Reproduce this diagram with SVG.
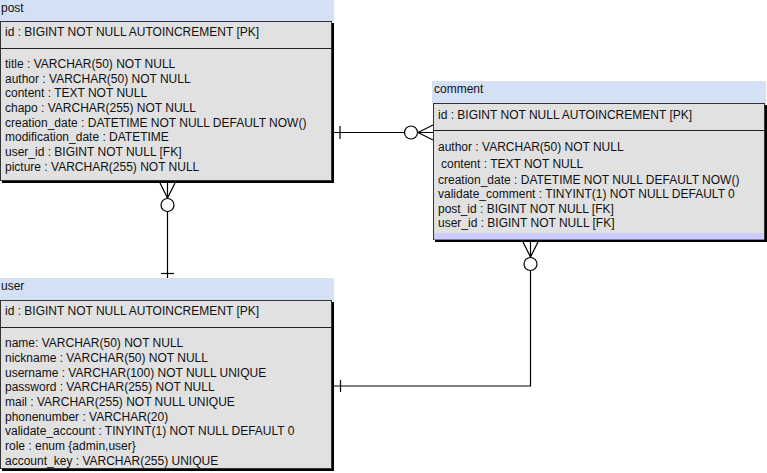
<svg xmlns="http://www.w3.org/2000/svg" width="767" height="473" viewBox="0 0 767 473">
<style>
.hdr{fill:#d4e1f5}
.shadow{fill:#000}
.body{fill:#e1e1e1;stroke:#333;stroke-width:1}
.div{stroke:#222;stroke-width:1}
text{font-family:"Liberation Sans",Arial,sans-serif;font-size:12px;fill:#111}
.ln{fill:none;stroke:#000;stroke-width:1.2}
.circ{fill:#fff;stroke:#000;stroke-width:1.2}
</style>
<rect width="767" height="473" fill="#fff"/>
<g id="connectors">
  <!-- post - comment -->
  <line class="ln" x1="334" y1="132.5" x2="433" y2="132.5"/>
  <line class="ln" x1="340" y1="126" x2="340" y2="139"/>
  <line class="ln" x1="418" y1="132.5" x2="433" y2="125"/>
  <line class="ln" x1="418" y1="132.5" x2="433" y2="140"/>
  <circle class="circ" cx="411" cy="132.5" r="6.5"/>
  <!-- post - user -->
  <line class="ln" x1="167.5" y1="183" x2="167.5" y2="278"/>
  <line class="ln" x1="161" y1="273.5" x2="174" y2="273.5"/>
  <line class="ln" x1="160" y1="183" x2="167.5" y2="198"/>
  <line class="ln" x1="175" y1="183" x2="167.5" y2="198"/>
  <circle class="circ" cx="167.5" cy="205" r="6.5"/>
  <!-- comment - user -->
  <polyline class="ln" points="530.5,242 530.5,386 334,386"/>
  <line class="ln" x1="340.5" y1="380" x2="340.5" y2="392"/>
  <line class="ln" x1="523" y1="242" x2="530.5" y2="257"/>
  <line class="ln" x1="538" y1="242" x2="530.5" y2="257"/>
  <circle class="circ" cx="530.5" cy="264" r="6.5"/>
</g>
<g id="post">
  <rect class="hdr" x="0" y="0" width="334" height="21"/>
  <rect class="shadow" x="2" y="23" width="332" height="160"/>
  <rect class="body" x="0.5" y="21.5" width="331" height="159"/>
  <line class="div" x1="0.5" y1="48.5" x2="331.5" y2="48.5"/>
  <text x="1" y="12">post</text>
  <text x="5" y="36">id : BIGINT NOT NULL AUTOINCREMENT [PK]</text>
  <text x="5" y="68">title : VARCHAR(50) NOT NULL</text>
  <text x="5" y="82.5">author : VARCHAR(50) NOT NULL</text>
  <text x="5" y="97">content : TEXT NOT NULL</text>
  <text x="5" y="112">chapo : VARCHAR(255) NOT NULL</text>
  <text x="5" y="126.5">creation_date : DATETIME NOT NULL DEFAULT NOW()</text>
  <text x="5" y="141">modification_date : DATETIME</text>
  <text x="5" y="156">user_id : BIGINT NOT NULL [FK]</text>
  <text x="5" y="170.5">picture : VARCHAR(255) NOT NULL</text>
</g>
<g id="comment">
  <rect class="hdr" x="432" y="81" width="334" height="22"/>
  <rect class="shadow" x="435" y="105" width="332" height="137"/>
  <rect class="body" x="433.5" y="103.5" width="331" height="136"/>
  <rect x="434" y="233" width="330" height="6.5" fill="#ccccff"/>
  <line class="div" x1="433.5" y1="130.5" x2="764.5" y2="130.5"/>
  <text x="434" y="93">comment</text>
  <text x="438" y="119">id : BIGINT NOT NULL AUTOINCREMENT [PK]</text>
  <text x="438" y="151">author : VARCHAR(50) NOT NULL</text>
  <text x="441" y="168">content : TEXT NOT NULL</text>
  <text x="438" y="184">creation_date : DATETIME NOT NULL DEFAULT NOW()</text>
  <text x="438" y="198">validate_comment : TINYINT(1) NOT NULL DEFAULT 0</text>
  <text x="438" y="213">post_id : BIGINT NOT NULL [FK]</text>
  <text x="438" y="227">user_id : BIGINT NOT NULL [FK]</text>
</g>
<g id="user">
  <rect class="hdr" x="0" y="278" width="334" height="22"/>
  <rect class="shadow" x="2" y="302" width="332" height="169"/>
  <rect class="body" x="0.5" y="300.5" width="331" height="168"/>
  <line class="div" x1="0.5" y1="327.5" x2="331.5" y2="327.5"/>
  <text x="1" y="290">user</text>
  <text x="5" y="315">id : BIGINT NOT NULL AUTOINCREMENT [PK]</text>
  <text x="5" y="347">name: VARCHAR(50) NOT NULL</text>
  <text x="5" y="361.5">nickname : VARCHAR(50) NOT NULL</text>
  <text x="5" y="376.5">username : VARCHAR(100) NOT NULL UNIQUE</text>
  <text x="5" y="391">password : VARCHAR(255) NOT NULL</text>
  <text x="5" y="405.5">mail : VARCHAR(255) NOT NULL UNIQUE</text>
  <text x="5" y="420.5">phonenumber : VARCHAR(20)</text>
  <text x="5" y="435">validate_account : TINYINT(1) NOT NULL DEFAULT 0</text>
  <text x="5" y="449.5">role : enum {admin,user}</text>
  <text x="5" y="464.5">account_key : VARCHAR(255) UNIQUE</text>
</g>
</svg>
